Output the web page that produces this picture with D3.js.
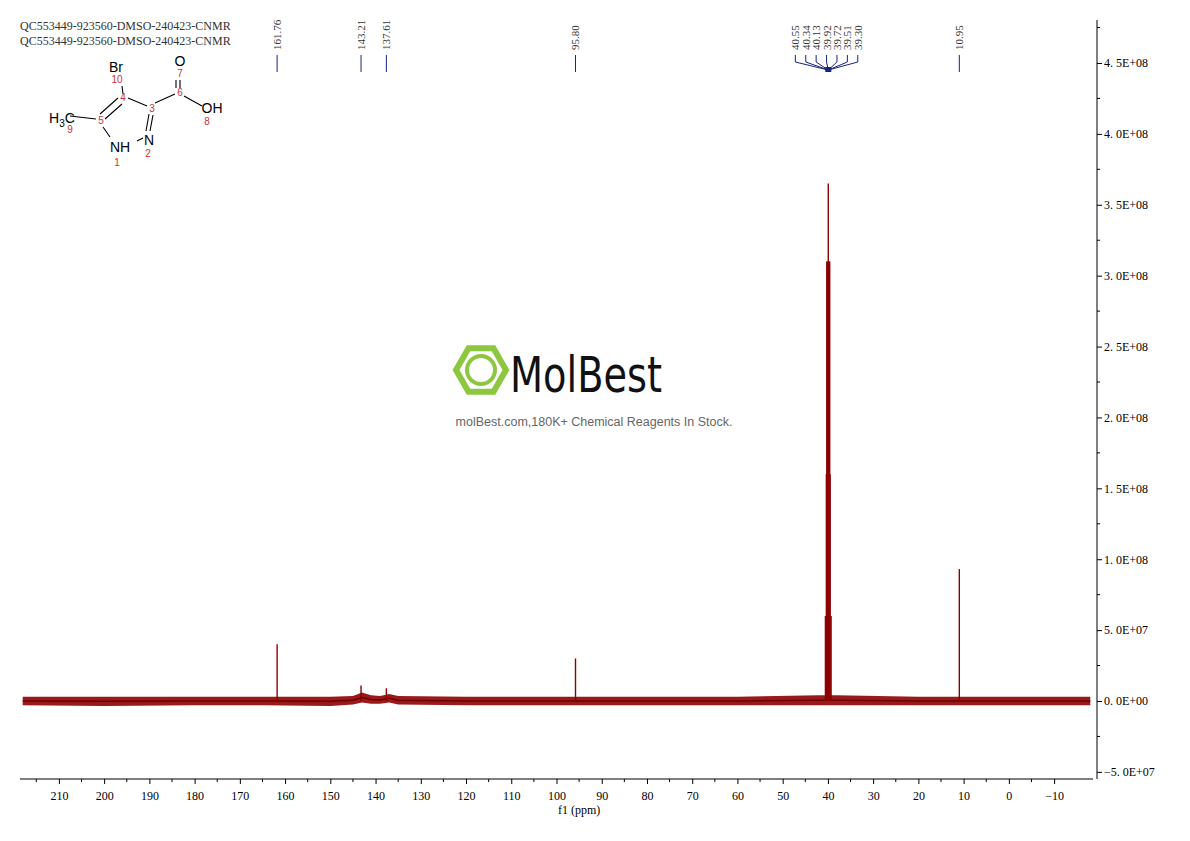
<!DOCTYPE html>
<html><head><meta charset="utf-8">
<script src="https://cdn.jsdelivr.net/npm/d3@7"></script>
<style>body{margin:0;background:#fff}.serif{font-family:"Liberation Serif",serif}</style>
</head><body>
<svg id="c" width="1190" height="841"></svg>
<script>
// peaks: ppm and height
const peakPpm = [161.76, 143.21, 137.61, 95.80, 40.55, 40.34, 40.13, 39.92, 39.72, 39.51, 39.30, 10.95];
const peakHeight = [4.0e7, 1.1e7, 9e6, 3.0e7, 6e7, 1.6e8, 3.1e8, 3.65e8, 3.1e8, 1.6e8, 6e7, 9.3e7];
// baseline noise band read at a few points: ppm, low, high
const bandPpm = [218, 200, 180, 165, 150, 145, 143, 141, 139, 137, 135, 120, 100, 80, 60, 42, 38, 20, 0, -18];
const bandLow = [-3e6, -3.5e6, -3e6, -3e6, -3.5e6, -2.5e6, -1e6, -2e6, -2e6, -1e6, -2.5e6, -3e6, -3e6, -3e6, -3e6, -3e6, -3e6, -3e6, -3e6, -3e6];
const bandHigh = [3e6, 3e6, 3e6, 3e6, 3e6, 3.5e6, 6e6, 4e6, 3.5e6, 5e6, 3.5e6, 3e6, 3e6, 3e6, 3e6, 4e6, 4e6, 3e6, 3e6, 3e6];
const xTicks = [210, 200, 190, 180, 170, 160, 150, 140, 130, 120, 110, 100, 90, 80, 70, 60, 50, 40, 30, 20, 10, 0, -10];
const yTicks = [-5e7, 0, 5e7, 1e8, 1.5e8, 2e8, 2.5e8, 3e8, 3.5e8, 4e8, 4.5e8];
const labels = ["161.76", "143.21", "137.61", "95.80", "40.55", "40.34", "40.13", "39.92", "39.72", "39.51", "39.30", "10.95"];
const labelPpm = [161.76, 143.21, 137.61, 95.80, 47.2, 44.9, 42.6, 40.3, 38.0, 35.7, 33.4, 10.95];

const svg = d3.select("#c");
const x = d3.scaleLinear().domain([218.6, -18.6]).range([20, 1093]);
const y = d3.scaleLinear().domain([0, 4.5e8]).range([701, 63]);
const red = "#8b0000";

// noise band
const band = bandPpm.map((p, i) => ({p, lo: bandLow[i], hi: bandHigh[i]}));
svg.append("path").datum(band)
  .attr("d", d3.area().x(d => x(d.p)).y0(d => y(d.lo)).y1(d => y(d.hi)))
  .attr("fill", "#9a1a1a");
svg.append("path").datum(band)
  .attr("d", d3.line().x(d => x(d.p)).y(d => y((d.lo + d.hi) / 2)))
  .attr("stroke", "#6e0000").attr("stroke-width", 1.5).attr("fill", "none");

// peaks
svg.selectAll(".pk").data(peakPpm).join("line")
  .attr("x1", d => x(d)).attr("x2", d => x(d))
  .attr("y1", y(0)).attr("y2", (d, i) => y(peakHeight[i]))
  .attr("stroke", red).attr("stroke-width", 1.4);
svg.append("rect").attr("x", x(40.4)).attr("width", x(39.45) - x(40.4))
  .attr("y", y(3.1e8)).attr("height", y(0) - y(3.1e8)).attr("fill", red);

// x axis
const gx = svg.append("g").attr("class", "serif").attr("transform", "translate(0,779)")
  .call(d3.axisBottom(x).tickValues(xTicks).tickSize(5).tickPadding(7).tickFormat(d => d < 0 ? "−" + (-d) : d));
gx.select(".domain").attr("d", "M20,0H1093");
gx.selectAll("text").attr("font-size", 12).attr("font-family", null);
gx.selectAll(".minor").data(xTicks.map(t => t + 5)).join("line").attr("class", "minor")
  .attr("x1", d => x(d)).attr("x2", d => x(d)).attr("y1", 0).attr("y2", 3).attr("stroke", "#000");
svg.append("text").attr("class", "serif").attr("x", x(95)).attr("y", 814).attr("text-anchor", "middle")
  .attr("font-size", 12).text("f1 (ppm)");

// y axis
const gy = svg.append("g").attr("class", "serif").attr("transform", "translate(1097,0)")
  .call(d3.axisRight(y).tickValues(yTicks).tickSize(5).tickPadding(2)
    .tickFormat(d => d === -5e7 ? "−5. 0E+07" : d3.format(".1e")(d).replace("e+", "E+0").replace(".", ". ")));
gy.select(".domain").attr("d", "M0,20V779");
gy.selectAll("text").attr("font-size", 12).attr("font-family", null);
gy.selectAll(".minor").data(yTicks.map(t => t + 2.5e7)).join("line").attr("class", "minor")
  .attr("y1", d => y(d)).attr("y2", d => y(d)).attr("x1", 0).attr("x2", 3).attr("stroke", "#000");

// peak labels
const lab = svg.append("g").attr("class", "serif");
labels.forEach((t, i) => {
  const lx = x(labelPpm[i]);
  lab.append("text").attr("transform", `translate(${lx + 4},50) rotate(-90)`)
    .attr("font-size", 11).attr("fill", "#333").text(t);
  if (i >= 4 && i <= 10) {
    lab.append("path").attr("d", `M${lx},55V62L${x(39.92)},70`).attr("stroke", "#1a237e").attr("fill", "none");
  } else {
    lab.append("line").attr("x1", lx).attr("x2", lx).attr("y1", 55).attr("y2", 72).attr("stroke", "#1a237e");
  }
});
lab.append("rect").attr("x", x(39.92) - 3).attr("y", 67).attr("width", 6).attr("height", 5).attr("fill", "#1a237e");

// title
["QC553449-923560-DMSO-240423-CNMR", "QC553449-923560-DMSO-240423-CNMR"].forEach((t, i) =>
  svg.append("text").attr("class", "serif").attr("x", 20).attr("y", 30 + i * 15).attr("font-size", 12).attr("fill", "#333").text(t));

// structure
const st = svg.append("g").style("font-family", "Liberation Sans, sans-serif");
st.append("path").attr("stroke", "#000").attr("fill", "none").attr("stroke-width", 1.1)
  .attr("d", "M70,116L96,119" + // CH3-C5
    "M100,114L118,98M105,119L122,104" + // C4=C5
    "M128,98L147,106" + // C4-C3
    "M149,114L146,131M153,115L150,131" + // C3=N2
    "M137,141L143,138" + // NH-N
    "M103,127L110,137" + // C5-N1
    "M122,86L123,94" + // C4-Br
    "M155,103L175,94" + // C3-C6
    "M176,88V80M180,88V80" + // C6=O
    "M184,96L202,106");
const atoms = [["Br", 116, 72, 14, "#000"], ["10", 117, 83, 10, "#c33"], ["O", 180, 66, 14, "#000"], ["7", 180, 77, 10, "#c33"],
  ["4", 123, 101, 10, "#c33"], ["3", 152, 112, 10, "#c33"], ["6", 180, 96, 10, "#c33"], ["OH", 212, 113, 14, "#000"], ["8", 207, 125, 10, "#c33"],
  ["5", 101, 124, 10, "#c33"], ["9", 70, 133, 10, "#c33"], ["NH", 120, 152, 14, "#000"], ["1", 117, 166, 10, "#c33"],
  ["N", 149, 145, 14, "#000"], ["2", 148, 157, 10, "#c33"]];
atoms.forEach(a => st.append("text").attr("x", a[1]).attr("y", a[2]).attr("font-size", a[3])
  .attr("text-anchor", "middle").attr("fill", a[4]).text(a[0]));
st.append("text").attr("x", 49).attr("y", 123).attr("font-size", 14)
  .html('H<tspan font-size="10" dy="4">3</tspan><tspan dy="-4">C</tspan>');

// watermark
const wm = svg.append("g");
const hex = d3.range(6).map(k => [481 + 25 * Math.cos(k * Math.PI / 3), 370 + 25 * Math.sin(k * Math.PI / 3)]);
wm.append("polygon").attr("points", hex.join(" ")).attr("fill", "none").attr("stroke", "#8dc63f").attr("stroke-width", 6);
wm.append("circle").attr("cx", 481).attr("cy", 370).attr("r", 14).attr("fill", "none").attr("stroke", "#8dc63f").attr("stroke-width", 4);
wm.append("text").attr("x", 510).attr("y", 392).attr("font-size", 50).style("font-family", "DejaVu Sans Condensed")
  .attr("textLength", 152).attr("lengthAdjust", "spacingAndGlyphs").attr("fill", "#111").text("MolBest");
wm.append("text").attr("x", 594).attr("y", 426).attr("text-anchor", "middle").attr("font-size", 12.5)
  .style("font-family", "Liberation Sans").attr("fill", "#666").text("molBest.com,180K+ Chemical Reagents In Stock.");
</script>
</body></html>
